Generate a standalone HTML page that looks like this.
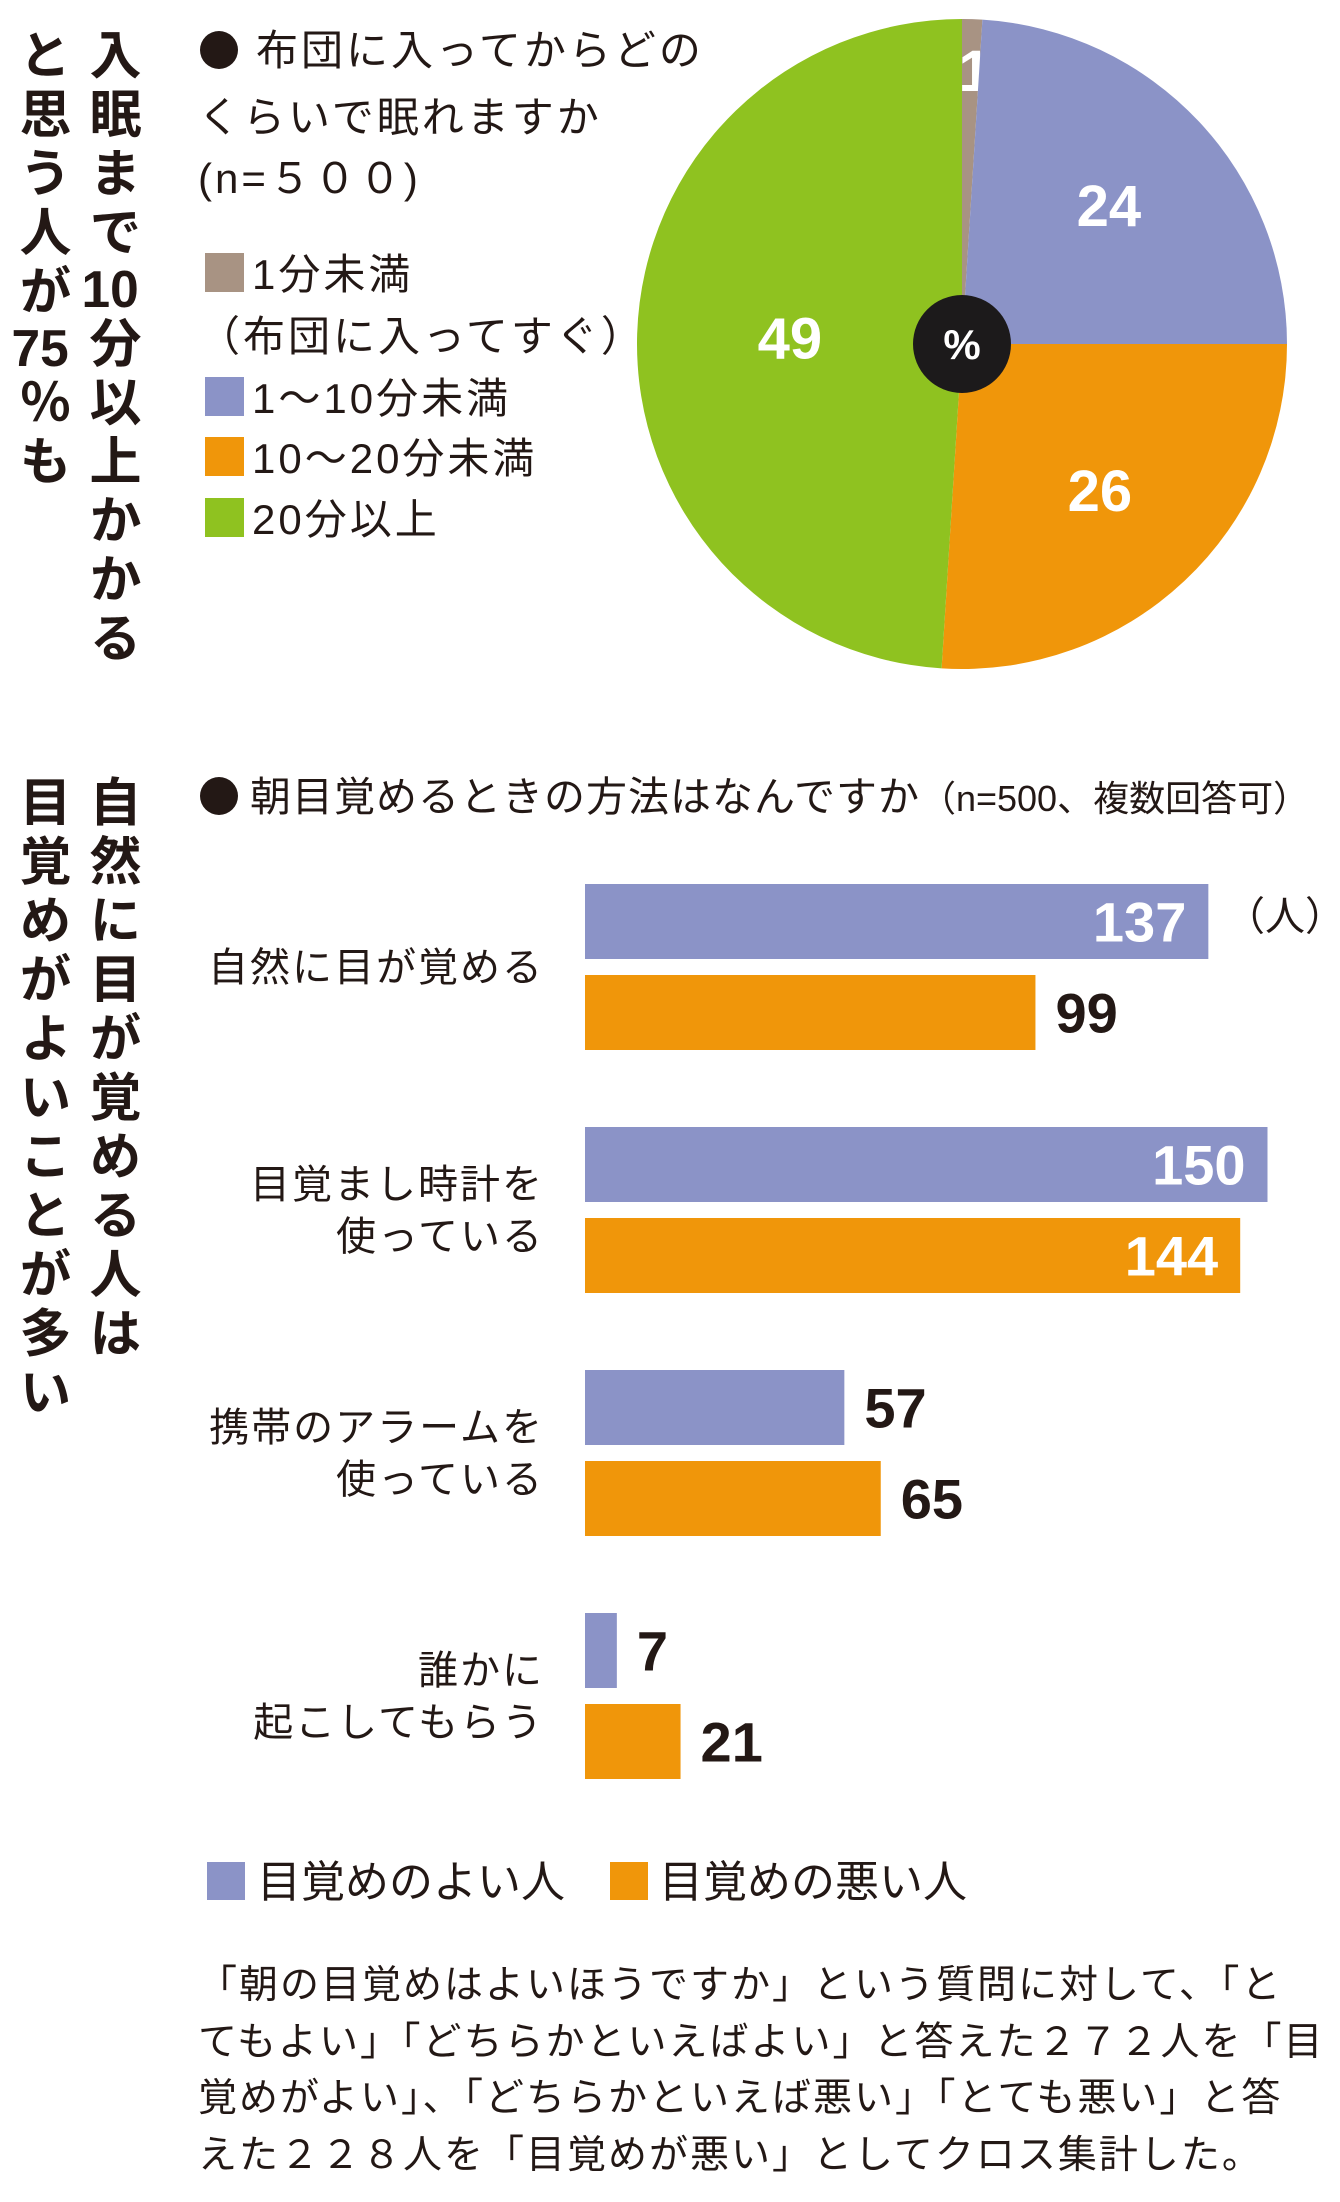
<!DOCTYPE html>
<html lang="ja">
<head>
<meta charset="utf-8">
<style>
  html,body{margin:0;padding:0;background:#fff;}
  body{width:1340px;height:2202px;position:relative;overflow:hidden;
    font-family:"Liberation Sans","Noto Sans CJK JP",sans-serif;color:#231815;}
  .vt{position:absolute;writing-mode:vertical-rl;font-weight:bold;font-size:52px;
    letter-spacing:7px;line-height:1;color:#231815;}
  .vt .tc{text-combine-upright:all;}
  svg{position:absolute;left:0;top:0;}
  text{font-family:"Liberation Sans","Noto Sans CJK JP",sans-serif;}
</style>
</head>
<body>
<div class="vt" style="left:84px;top:28px;">入眠まで<span class="tc">10</span>分以上かかる</div>
<div class="vt" style="left:14px;top:28px;">と思う人が<span class="tc">75</span>％も</div>
<div class="vt" style="left:84px;top:775px;">自然に目が覚める人は</div>
<div class="vt" style="left:14px;top:775px;">目覚めがよいことが多い</div>

<svg id="chart" width="1340" height="2202" viewBox="0 0 1340 2202">
  <g font-size="42" letter-spacing="3" fill="#231815">
    <circle cx="219" cy="50" r="19" fill="#231815"></circle>
    <text x="256" y="65">布団に入ってからどの</text>
    <text x="198" y="132">くらいで眠れますか</text>
    <text x="198" y="193">(n=５００)</text>
  </g>
  <g id="pieLegend"></g>
  <g id="pie"></g>

  <g fill="#231815">
    <circle cx="219" cy="796" r="19" fill="#231815"></circle>
    <text x="250" y="811" font-size="41" letter-spacing="1">朝目覚めるときの方法はなんですか<tspan font-size="36" letter-spacing="0">（n=500、複数回答可）</tspan></text>
  </g>
  <g id="bars"></g>
  <text x="1225" y="930" font-size="40" fill="#231815">（人）</text>

  <g font-size="44" fill="#231815">
    <rect x="207" y="1862" width="38" height="38" fill="#8b93c7"></rect>
    <text x="257" y="1897">目覚めのよい人</text>
    <rect x="610" y="1862" width="38" height="38" fill="#f0960a"></rect>
    <text x="659" y="1897">目覚めの悪い人</text>
  </g>

  <g font-size="39" letter-spacing="2" fill="#231815">
    <text x="198" y="1998">「朝の目覚めはよいほうですか」という質問に対して、「と</text>
    <text x="198" y="2055">てもよい」「どちらかといえばよい」と答えた２７２人を「目</text>
    <text x="198" y="2111">覚めがよい」、「どちらかといえば悪い」「とても悪い」と答</text>
    <text x="198" y="2168">えた２２８人を「目覚めが悪い」としてクロス集計した。</text>
  </g>
</svg>

<script>
const pieCategories = ["1分未満", "1〜10分未満", "10〜20分未満", "20分以上"];
const pieValues = [1, 24, 26, 49];
const pieColors = ["#a89383", "#8b93c7", "#f0960a", "#8fc220"];

const barCategories = [["自然に目が覚める"], ["目覚まし時計を", "使っている"], ["携帯のアラームを", "使っている"], ["誰かに", "起こしてもらう"]];
const goodValues = [137, 150, 57, 7];
const badValues = [99, 144, 65, 21];

const NS = "http://www.w3.org/2000/svg";
function mk(tag, attrs, parent) {
  const e = document.createElementNS(NS, tag);
  for (const k in attrs) e.setAttribute(k, attrs[k]);
  parent.appendChild(e);
  return e;
}

// ---- Pie ----
const pie = document.getElementById("pie");
const cx = 962, cy = 344, R = 325;
const total = pieValues.reduce((a, b) => a + b, 0);
function pt(angDeg, r) {
  const a = angDeg * Math.PI / 180;
  return [cx + r * Math.sin(a), cy - r * Math.cos(a)];
}
let acc = 0;
pieValues.forEach((v, i) => {
  const a0 = acc / total * 360, a1 = (acc + v) / total * 360;
  acc += v;
  const p0 = pt(a0, R), p1 = pt(a1, R);
  const large = (a1 - a0) > 180 ? 1 : 0;
  const path = mk("path", {
    d: `M${cx},${cy} L${p0[0]},${p0[1]} A${R},${R} 0 ${large} 1 ${p1[0]},${p1[1]} Z`,
    fill: pieColors[i]
  }, pie);
  
  
  const mid = (a0 + a1) / 2;
  const lr = v < 5 ? R * 0.84 : (v > 40 ? R * 0.53 : R * 0.62);
  const lp = pt(mid, lr);
  const t = mk("text", {
    x: lp[0] + (v < 5 ? 4 : 0), y: lp[1] + 20, "text-anchor": "middle", "font-size": 58,
    "font-weight": "bold", fill: "#fff"
  }, pie);
  t.textContent = v;
  
  
});
const hole = mk("circle", { cx: cx, cy: cy, r: 49, fill: "#1c1a1b" }, pie);


const pc = mk("text", { x: cx, y: cy + 15, "text-anchor": "middle", "font-size": 42, "font-weight": "bold", fill: "#fff" }, pie);
pc.textContent = "%";



// ---- Pie legend ----
const leg = document.getElementById("pieLegend");
const legTops = [253, 377, 437, 498];
pieCategories.forEach((c, i) => {
  const r = mk("rect", { x: 205, y: legTops[i], width: 39, height: 39, fill: pieColors[i] }, leg);
  
  
  const t = mk("text", { x: 252, y: legTops[i] + 36, "font-size": 42, "letter-spacing": 3, fill: "#231815" }, leg);
  t.textContent = c;
  
  
});
const sub = mk("text", { x: 198, y: 351, "font-size": 42, "letter-spacing": 3, fill: "#231815" }, leg);
sub.textContent = "（布団に入ってすぐ）";



// ---- Bars ----
const bars = document.getElementById("bars");
const x0 = 585, pxPerUnit = 4.55;
const xScale = v => v * pxPerUnit;
const groupTop0 = 884, groupStep = 243, barH = 75, badOffset = 91;
barCategories.forEach((lines, i) => {
  const gy = groupTop0 + i * groupStep;
  [[goodValues[i], "#8b93c7", 0, "bar-good"], [badValues[i], "#f0960a", badOffset, "bar-bad"]].forEach(([v, col, off, nm]) => {
    const w = xScale(v);
    const r = mk("rect", { x: x0, y: gy + off, width: w, height: barH, fill: col }, bars);
    
    
    const inside = w > 560;
    const t = mk("text", {
      x: inside ? x0 + w - 22 : x0 + w + 20,
      y: gy + off + barH / 2 + 20,
      "text-anchor": inside ? "end" : "start",
      "font-size": 56, "font-weight": "bold",
      fill: inside ? "#fff" : "#231815"
    }, bars);
    t.textContent = v;
    
    
  });
  const midY = gy + (badOffset + barH) / 2;
  lines.forEach((ln, j) => {
    const yy = lines.length === 1 ? midY + 14 : midY - 12 + j * 52;
    const t = mk("text", { x: 544, y: yy, "text-anchor": "end", "font-size": 40, "letter-spacing": 2, fill: "#231815" }, bars);
    t.textContent = ln;
    
    
  });
});
</script>
</body>
</html>
